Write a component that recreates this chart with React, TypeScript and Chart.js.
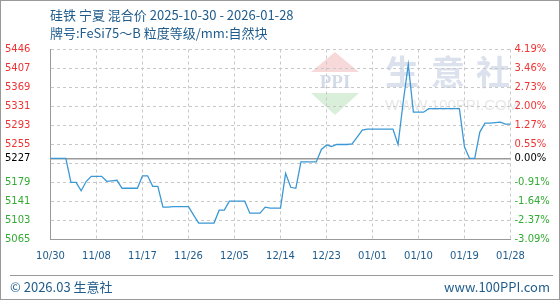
import React, { useEffect, useRef } from "react";
import { Chart, registerables } from "chart.js";

Chart.register(...registerables);

const dates: string[] = [
  "10/30", "10/31", "11/01", "11/02", "11/03", "11/04", "11/05", "11/06", "11/07", "11/08",
  "11/09", "11/10", "11/11", "11/12", "11/13", "11/14", "11/15", "11/16", "11/17", "11/18",
  "11/19", "11/20", "11/21", "11/22", "11/23", "11/24", "11/25", "11/26", "11/27", "11/28",
  "11/29", "11/30", "12/01", "12/02", "12/03", "12/04", "12/05", "12/06", "12/07", "12/08",
  "12/09", "12/10", "12/11", "12/12", "12/13", "12/14", "12/15", "12/16", "12/17", "12/18",
  "12/19", "12/20", "12/21", "12/22", "12/23", "12/24", "12/25", "12/26", "12/27", "12/28",
  "12/29", "12/30", "12/31", "01/01", "01/02", "01/03", "01/04", "01/05", "01/06", "01/07",
  "01/08", "01/09", "01/10", "01/11", "01/12", "01/13", "01/14", "01/15", "01/16", "01/17",
  "01/18", "01/19", "01/20", "01/21", "01/22", "01/23", "01/24", "01/25", "01/26", "01/27",
  "01/28",
];

const prices: number[] = [
  5227, 5227, 5227, 5227, 5179, 5179, 5162, 5181, 5191, 5191,
  5191, 5181, 5182, 5183, 5167, 5167, 5167, 5167, 5192, 5192,
  5171, 5171, 5129, 5129, 5130, 5130, 5130, 5130, 5113, 5097,
  5097, 5097, 5097, 5123, 5123, 5141, 5141, 5141, 5141, 5117,
  5117, 5117, 5129, 5127, 5127, 5127, 5197, 5169, 5167, 5220,
  5220, 5220, 5220, 5245, 5254, 5251, 5255, 5255, 5255, 5256,
  5270, 5284, 5286, 5286, 5286, 5286, 5286, 5286, 5255, 5340,
  5416, 5320, 5320, 5320, 5327, 5327, 5327, 5327, 5327, 5327,
  5327, 5250, 5227, 5227, 5280, 5298, 5298, 5299, 5300, 5296,
  5296,
];

const basePrice = 5227;
const yTickValues: number[] = [5065, 5103.1, 5141.2, 5179.3, 5217.4, 5227, 5255.5, 5293.6, 5331.7, 5369.8, 5407.9, 5446];
const leftTickLabels: string[] = ["5065", "5103", "5141", "5179", "", "5227", "5255", "5293", "5331", "5369", "5407", "5446"];
const rightTickLabels: string[] = ["-3.09%", "-2.37%", "-1.64%", "-0.91%", "", "0.00%", "0.55%", "1.27%", "2.00%", "2.73%", "3.46%", "4.19%"];
const xTickEvery = 9;

const titleLine1 = "硅铁 宁夏 混合价 2025-10-30 - 2026-01-28";
const titleLine2 = "牌号:FeSi75～B 粒度等级/mm:自然块";
const footerLeft = "© 2026.03 生意社";
const footerRight = "www.100PPI.com";

const RED = "#ee3333";
const GREEN = "#33aa33";
const BLUE_TEXT = "#1f5c8c";
const TICK_FONT = { family: "'DejaVu Sans', Verdana, sans-serif", size: 10 };

const tickColor = (v: number) => (Math.abs(v - basePrice) < 0.01 ? "#000000" : v > basePrice ? RED : GREEN);

const watermark = {
  id: "watermark",
  beforeDraw(chart: any) {
    const ctx = chart.ctx as CanvasRenderingContext2D;
    ctx.save();
    // red triangle
    ctx.fillStyle = "rgba(240,170,170,0.45)";
    ctx.beginPath();
    ctx.moveTo(335, 52);
    ctx.lineTo(359, 72);
    ctx.lineTo(311, 72);
    ctx.closePath();
    ctx.fill();
    // green triangle
    ctx.fillStyle = "rgba(170,220,170,0.45)";
    ctx.beginPath();
    ctx.moveTo(311, 93);
    ctx.lineTo(359, 93);
    ctx.lineTo(335, 115);
    ctx.closePath();
    ctx.fill();
    // PPI
    ctx.fillStyle = "rgba(200,210,228,0.8)";
    ctx.font = "bold 19px 'Liberation Serif', serif";
    ctx.textAlign = "center";
    ctx.textBaseline = "middle";
    ctx.fillText("PPI", 335, 83);
    // 生意社
    ctx.fillStyle = "rgba(205,213,230,0.7)";
    ctx.font = "bold 34px 'Noto Sans CJK SC', sans-serif";
    ctx.textAlign = "left";
    ctx.fillText("生", 385, 72);
    ctx.fillText("意", 431, 72);
    ctx.fillText("社", 476, 72);
    ctx.fillStyle = "rgba(215,215,215,0.6)";
    ctx.font = "15px 'Liberation Sans', Arial, sans-serif";
    ctx.fillText("WWW.100PPI.COM", 385, 106);
    ctx.restore();
  },
};

export default function App() {
  const canvasRef = useRef<HTMLCanvasElement | null>(null);

  useEffect(() => {
    if (!canvasRef.current) return;
    const chart = new Chart(canvasRef.current, {
      type: "line",
      data: {
        labels: dates,
        datasets: [
          {
            data: prices,
            borderColor: "#3b98d6",
            borderWidth: 1.3,
            pointRadius: 0,
            tension: 0,
            fill: false,
            yAxisID: "y",
          },
        ],
      },
      options: {
        animation: false,
        responsive: false,
        maintainAspectRatio: false,
        devicePixelRatio: 1,
        layout: { padding: { left: 5, top: 49.5, right: 0, bottom: 0 } },
        plugins: { legend: { display: false }, tooltip: { enabled: false }, title: { display: false } },
        scales: {
          x: {
            type: "category",
            offset: false,
            grid: {
              drawTicks: false,
              color: (ctx: any) => (ctx.index % xTickEvery === 0 ? "#c8c8c8" : "rgba(0,0,0,0)"),
              lineWidth: 1,
            },
            border: { display: true, color: "#999999", width: 1, dash: [3, 3] },
            ticks: {
              autoSkip: false,
              maxRotation: 0,
              padding: 11,
              color: BLUE_TEXT,
              font: TICK_FONT,
              callback: (_v: any, i: number) => (i % xTickEvery === 0 ? dates[i] : ""),
            },
            afterFit: (scale: any) => {
              scale.height = 61;
            },
          },
          y: {
            type: "linear",
            position: "left",
            min: 5065,
            max: 5446,
            afterBuildTicks: (scale: any) => {
              scale.ticks = yTickValues.map((v) => ({ value: v }));
            },
            grid: {
              drawTicks: false,
              color: (ctx: any) => (ctx.tick && Math.abs(ctx.tick.value - basePrice) < 0.01 ? "#999999" : "#c8c8c8"),
              lineWidth: (ctx: any) => (ctx.tick && Math.abs(ctx.tick.value - basePrice) < 0.01 ? 1.5 : 1),
            },
            border: {
              display: true,
              color: "#999999",
              width: 1,
              dash: (ctx: any) => (ctx.tick && Math.abs(ctx.tick.value - basePrice) < 0.01 ? [] : [3, 3]),
            },
            ticks: {
              crossAlign: "far",
              padding: 4,
              font: TICK_FONT,
              color: (ctx: any) => tickColor(ctx.tick.value),
              callback: (_v: any, i: number) => leftTickLabels[i],
            },
            afterFit: (scale: any) => {
              scale.width = 45.5;
            },
          },
          y1: {
            type: "linear",
            position: "right",
            min: 5065,
            max: 5446,
            afterBuildTicks: (scale: any) => {
              scale.ticks = yTickValues.map((v) => ({ value: v }));
            },
            grid: { display: false, drawTicks: false },
            border: { display: false },
            ticks: {
              padding: 4,
              font: TICK_FONT,
              color: (ctx: any) => tickColor(ctx.tick.value),
              callback: (_v: any, i: number) => rightTickLabels[i],
            },
            afterFit: (scale: any) => {
              scale.width = 49.5;
            },
          },
        },
      },
      plugins: [watermark],
    });
    return () => chart.destroy();
  }, []);

  const textFont = "'Noto Sans CJK SC', 'Liberation Sans', sans-serif";

  return (
    <div
      style={{
        position: "fixed",
        left: 0,
        top: 0,
        width: 560,
        height: 300,
        boxSizing: "border-box",
        border: "1px solid #999999",
        background: "#ffffff",
        overflow: "hidden",
      }}
    >
      <canvas ref={canvasRef} width={560} height={300} style={{ position: "absolute", left: -1, top: -1, width: 560, height: 300 }} />
      <div style={{ position: "absolute", left: 49, top: 5, fontFamily: textFont, fontSize: 13, lineHeight: "18px", color: BLUE_TEXT, whiteSpace: "nowrap" }}>
        {titleLine1}
      </div>
      <div style={{ position: "absolute", left: 49, top: 23, fontFamily: textFont, fontSize: 13, lineHeight: "18px", color: BLUE_TEXT, whiteSpace: "nowrap" }}>
        {titleLine2}
      </div>
      <div style={{ position: "absolute", left: 9, top: 274, width: 543, height: 0, borderTop: "1px solid #999999" }} />
      <div style={{ position: "absolute", left: 9, top: 277, fontFamily: textFont, fontSize: 13, lineHeight: "18px", color: BLUE_TEXT, whiteSpace: "nowrap" }}>
        {footerLeft}
      </div>
      <div style={{ position: "absolute", right: 9, top: 277, fontFamily: textFont, fontSize: 13, lineHeight: "18px", color: BLUE_TEXT, whiteSpace: "nowrap" }}>
        {footerRight}
      </div>
    </div>
  );
}
